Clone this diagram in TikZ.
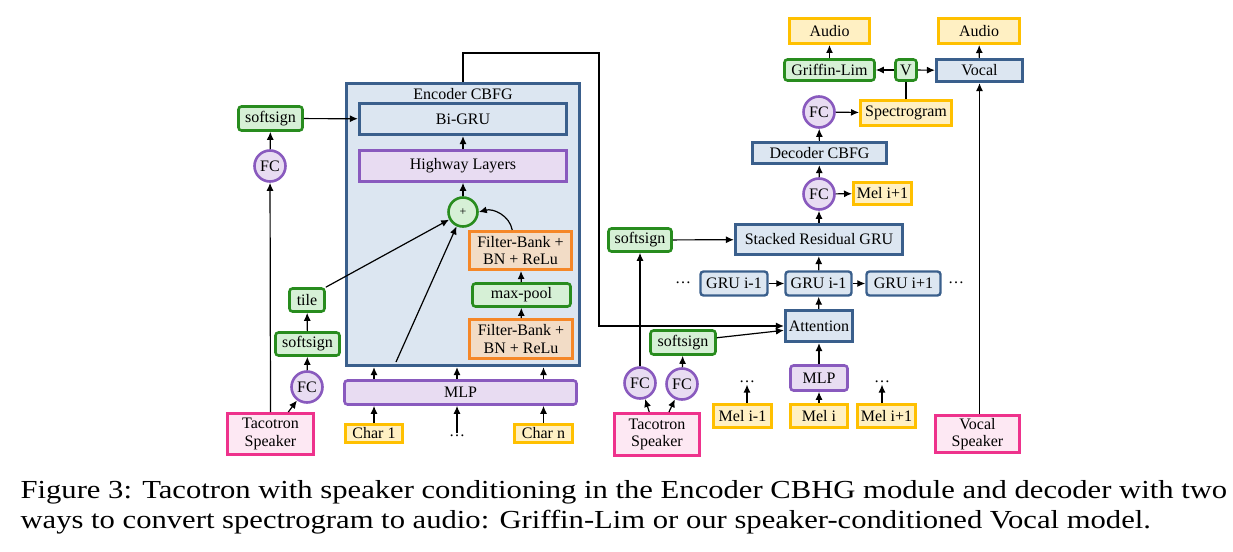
\documentclass[tikz,border=0pt]{standalone}
\usepackage{fontspec}
\setmainfont{Liberation Serif}
\usepackage{xcolor}
\definecolor{encblue}{RGB}{58,95,140}
\definecolor{encfill}{RGB}{220,230,241}
\definecolor{hwpurple}{RGB}{137,90,190}
\definecolor{hwfill}{RGB}{232,220,242}
\definecolor{ssgreen}{RGB}{40,140,30}
\definecolor{ssfill}{RGB}{214,240,214}
\definecolor{fborange}{RGB}{245,135,40}
\definecolor{fbfill}{RGB}{242,220,198}
\definecolor{inyellow}{RGB}{255,192,0}
\definecolor{infill}{RGB}{255,240,195}
\definecolor{spkpink}{RGB}{238,50,140}
\definecolor{spkfill}{RGB}{253,232,243}
\usetikzlibrary{positioning,calc,arrows.meta}

\begin{document}
\begin{tikzpicture}[x=1pt, y=-1pt, ->, >={Latex[length=8pt,width=7pt]}, line width=1.2pt, font=\fontsize{16}{17.5}\selectfont, sz/.style 2 args={minimum width=#1pt, minimum height=#2pt, inner sep=0pt, align=center}, encbox/.style={draw=encblue, fill=encfill, line width=3.2pt}, grubox/.style={draw=encblue, fill=encfill, line width=2.4pt, rounded corners=3pt}, grnbox/.style={draw=ssgreen, fill=ssfill, line width=2.6pt, rounded corners=3pt}, purpbox/.style={draw=hwpurple, fill=hwfill, line width=2.6pt, rounded corners=3pt}, fcnode/.style={circle, draw=hwpurple, fill=hwfill, line width=2.6pt, minimum size=31pt, inner sep=0pt}, fbbox/.style={draw=fborange, fill=fbfill, line width=3pt}, inbox/.style={draw=inyellow, fill=infill, line width=3pt}, spkbox/.style={draw=spkpink, fill=spkfill, line width=3pt}, dots/.style={inner sep=1pt}, captext/.style={anchor=west, inner sep=0pt, font=\fontsize{26}{30}\selectfont}]

\useasboundingbox (0,0) rectangle (1233,551);

% encoder side
\node[encbox, sz={233}{282}] (enc) at (463,224.5) {};
\node[inner sep=0pt] (enctitle) at (463,94) {Encoder CBFG};
\node[encbox, sz={207}{31}] (bigru) at (463,119) {Bi-GRU};
\node[purpbox, rounded corners=0pt, sz={207}{31}] (hwy) at (463,166) {Highway Layers};
\node[circle, draw=ssgreen, fill=ssfill, line width=2.6pt, minimum size=29pt, inner sep=0pt, font=\fontsize{12}{13}\selectfont] (plus) at (463,212) {+};
\node[fbbox, sz={102}{38}] (fb1) at (520.5,250.5) {Filter-Bank +\\BN + ReLu};
\node[grnbox, sz={98}{23}] (pool) at (521.5,295) {max-pool};
\node[fbbox, sz={103}{39}] (fb2) at (521,339) {Filter-Bank +\\BN + ReLu};
\node[purpbox, sz={232}{24}] (mlpL) at (460.5,392.5) {MLP};
\node[inbox, sz={57}{18}] (char1) at (374,433.5) {Char 1};
\node[dots] (dotsL) at (457,436) {\dots};
\node[inbox, sz={58}{18}] (charn) at (543.5,433.5) {Char n};
\coordinate (mlpin) at (396,362);

\node[grnbox, sz={64}{24}] (ssTop) at (270.5,118.5) {softsign};
\node[fcnode] (fcTop) at (270,166) {FC};
\node[grnbox, sz={35}{23}] (tile) at (307,300) {tile};
\node[grnbox, sz={64}{23}] (ssBot) at (307.5,344) {softsign};
\node[fcnode] (fcBot) at (307,387) {FC};
\node[spkbox, sz={86}{41}] (spkL) at (270.5,434) {Tacotron\\Speaker};

\draw (char1) -- (char1 |- mlpL.south);
\draw (dotsL) -- (dotsL |- mlpL.south);
\draw (charn) -- (charn |- mlpL.south);
\draw (mlpL.north -| char1) -- (enc.south -| char1);
\draw (mlpL.north -| dotsL) -- (enc.south -| dotsL);
\draw (mlpL.north -| charn) -- (enc.south -| charn);
\draw (fb2) -- (pool);
\draw (pool) -- (fb1);
\draw (fb1.112) to[out=100, in=15] (plus.east);
\draw (tile.north east) -- (plus);
\draw (mlpin) -- (plus);
\draw (plus) -- (hwy);
\draw (hwy) -- (bigru);
\draw (ssTop) -- (bigru);
\draw (spkL.north) -- (fcTop);
\draw (fcTop) -- (ssTop);
\draw (spkL.51.5) -- (fcBot);
\draw (fcBot) -- (ssBot);
\draw (ssBot) -- (tile);

% decoder side
\node[inbox, sz={80}{25}] (audio1) at (829.5,31) {Audio};
\node[inbox, sz={81}{25}] (audio2) at (979,31) {Audio};
\node[grnbox, sz={90}{21}] (gl) at (829.5,70) {Griffin-Lim};
\node[grnbox, sz={21}{21}] (vv) at (906,70) {V};
\node[encbox, sz={86}{22}] (vocal) at (979.5,70.5) {Vocal};
\node[inbox, sz={91}{25}] (spec) at (906,113) {Spectrogram};
\node[fcnode] (fcA) at (819,112) {FC};
\node[encbox, sz={134}{21}] (dec) at (819.5,153) {Decoder CBFG};
\node[fcnode] (fcB) at (819,194) {FC};
\node[inbox, sz={58}{22}] (meltop) at (882.5,193.5) {Mel i+1};
\node[encbox, sz={167}{30}] (srg) at (819,239.5) {Stacked Residual GRU};
\node[grnbox, sz={63}{23}] (ssR1) at (640,240) {softsign};
\node[grubox, sz={67}{24}] (gru1) at (734,283.5) {GRU i-1};
\node[grubox, sz={66}{24}] (gru2) at (818.5,283.5) {GRU i-1};
\node[grubox, sz={74}{24}] (gru3) at (903.5,283.5) {GRU i+1};
\node[dots] (dotsG1) at (683,283) {\dots};
\node[dots] (dotsG3) at (956,283) {\dots};
\node[encbox, sz={67}{31}] (att) at (819,326) {Attention};
\node[grnbox, sz={65}{24}] (ssR2) at (683,342.5) {softsign};
\node[purpbox, sz={57}{25}] (mlpR) at (819,378) {MLP};
\node[fcnode] (fcC) at (640,383) {FC};
\node[fcnode] (fcD) at (682,384) {FC};
\node[spkbox, sz={85}{42}] (spkR) at (657,434.5) {Tacotron\\Speaker};
\node[inbox, sz={58}{23}] (melA) at (742.5,416) {Mel i-1};
\node[inbox, sz={57}{23}] (melB) at (819,416) {Mel i};
\node[inbox, sz={58}{23}] (melC) at (886.5,416) {Mel i+1};
\node[dots] (dotsA) at (747,382) {\dots};
\node[dots] (dotsC) at (882,382) {\dots};
\node[spkbox, sz={84}{37}] (spkV) at (977.5,434) {Vocal\\Speaker};
\coordinate (turn) at (599,53);

\draw (enc.north) |- (turn) |- (att.west);
\draw (spkR.109.6) -- (fcC);
\draw (spkR.62) -- (fcD);
\draw (fcC) -- (ssR1);
\draw (fcD) -- (ssR2);
\draw (ssR1) -- (srg);
\draw (ssR2.8) -- (att.187);
\draw (melA.north -| dotsA) -- (dotsA);
\draw (melC.north -| dotsC) -- (dotsC);
\draw (melB) -- (mlpR);
\draw (mlpR) -- (att);
\draw (att) -- (gru2);
\draw (gru1) -- (gru2);
\draw (gru2) -- (gru3);
\draw (gru2) -- (srg);
\draw (srg) -- (fcB);
\draw (fcB) -- (meltop);
\draw (fcB) -- (dec);
\draw (dec) -- (fcA);
\draw (fcA) -- (spec);
\draw[-] (spec) -- (vv);
\draw (vv) -- (gl);
\draw (vv) -- (vocal);
\draw (gl) -- (audio1);
\draw (vocal) -- (audio2);
\draw (vocal.south |- spkV.north) -- (vocal.south);

% caption
\node[captext] (cap1) at (20,492) {\scalebox{1.178}[1]{Figure 3: Tacotron with speaker conditioning in the Encoder CBHG module and decoder with two}};
\node[captext] (cap2) at (20,522) {\scalebox{1.178}[1]{ways to convert spectrogram to audio: Griffin-Lim or our speaker-conditioned Vocal model.}};
\end{tikzpicture}
\end{document}
